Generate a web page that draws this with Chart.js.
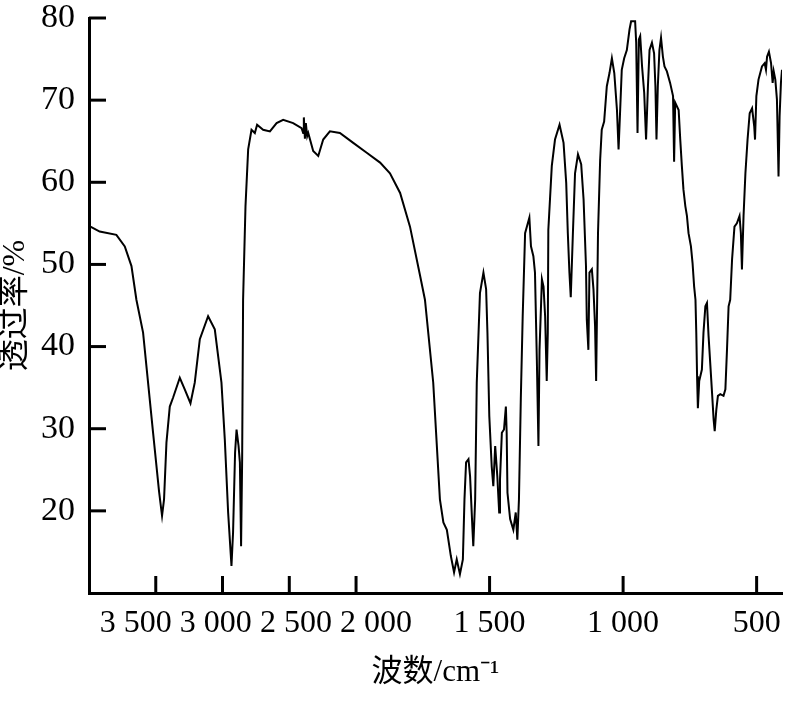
<!DOCTYPE html>
<html>
<head>
<meta charset="utf-8">
<script src="https://cdn.jsdelivr.net/npm/chart.js@4.4.0/dist/chart.umd.min.js"></script>
<style>
  html, body { margin: 0; padding: 0; background: #fff; }
  #wrap { width: 797px; height: 708px; position: relative; }
</style>
</head>
<body>
<div id="wrap"><canvas id="ir"></canvas></div>
<script>
// IR spectrum: wavenumber (cm-1) and transmittance (%)
const wavenumbers = [
  4000, 3920, 3795, 3732, 3682, 3645, 3595, 3520, 3475, 3453, 3438, 3420, 3395, 3370, 3320, 3283,
  3240, 3208, 3170, 3108, 3058, 3008, 2983, 2958, 2933, 2921, 2906, 2895, 2880, 2870, 2861, 2853,
  2846, 2828, 2808, 2783, 2758, 2741, 2696, 2645, 2595, 2546, 2471, 2408, 2396, 2391, 2383, 2376,
  2366, 2358, 2321, 2283, 2246, 2196, 2121, 2021, 1960, 1910, 1873, 1835, 1798, 1760, 1742, 1711,
  1686, 1673, 1660, 1645, 1633, 1623, 1611, 1600, 1594, 1588, 1579, 1573, 1564, 1561, 1554, 1548,
  1536, 1523, 1513, 1508, 1501, 1492, 1486, 1479, 1471, 1464, 1461, 1454, 1446, 1439, 1436, 1433,
  1423, 1411, 1402, 1396, 1390, 1383, 1376, 1367, 1351, 1345, 1336, 1330, 1323, 1317, 1313, 1304,
  1298, 1292, 1286, 1282, 1280, 1267, 1255, 1238, 1223, 1213, 1207, 1201, 1196, 1188, 1180, 1169,
  1157, 1148, 1139, 1136, 1130, 1126, 1117, 1111, 1105, 1101, 1094, 1086, 1080, 1071, 1061, 1051,
  1042, 1033, 1023, 1017, 1011, 1005, 996, 986, 976, 970, 955, 951, 946, 941, 936, 929,
  921, 914, 907, 901, 892, 884, 879, 875, 870, 864, 858, 851, 845, 836, 824, 813,
  809, 805, 792, 786, 780, 774, 767, 761, 755, 746, 740, 734, 729, 726, 723, 720,
  715, 705, 699, 692, 686, 680, 667, 661, 657, 651, 645, 636, 624, 617, 611, 605,
  599, 592, 583, 574, 564, 559, 555, 549, 542, 534, 526, 517, 509, 506, 501, 493,
  480, 470, 465, 461, 454, 446, 440, 436, 430, 424, 420, 418, 414, 409, 405
];
const transmittance = [
  54.7, 54.0, 53.6, 52.2, 49.8, 45.7, 41.7, 29.5, 22.3, 19.4, 21.4, 28.3, 32.7, 33.8, 36.2, 34.8,
  33.1, 35.6, 40.9, 43.7, 42.1, 35.6, 28.7, 19.8, 13.3, 17.4, 27.1, 29.9, 27.9, 25.9, 15.7, 26.3,
  45.7, 57.1, 64.0, 66.4, 66.0, 67.0, 66.4, 66.2, 67.2, 67.6, 67.2, 66.6, 66.0, 67.9, 65.3, 67.2,
  65.6, 66.0, 63.8, 63.2, 65.2, 66.2, 66.0, 64.8, 63.6, 62.4, 61.1, 58.7, 54.6, 48.6, 45.7, 35.6,
  21.4, 18.6, 17.7, 14.5, 12.5, 14.1, 12.3, 14.1, 21.4, 25.9, 26.3, 24.2, 17.7, 15.7, 21.4, 35.6,
  46.5, 49.0, 47.0, 41.7, 31.5, 25.4, 23.0, 27.9, 24.2, 19.8, 23.8, 29.5, 29.9, 32.7, 29.5, 22.2,
  19.0, 17.7, 19.8, 16.5, 21.4, 33.7, 43.7, 53.8, 55.7, 52.2, 51.0, 49.0, 38.4, 27.9, 39.6, 48.2,
  47.3, 43.7, 35.8, 41.7, 54.2, 62.0, 65.2, 67.0, 64.8, 59.9, 53.8, 49.0, 46.0, 53.8, 61.1, 63.4,
  62.2, 57.9, 49.8, 43.3, 39.6, 49.0, 49.4, 47.0, 42.5, 35.8, 53.8, 62.7, 66.4, 67.4, 71.7, 73.3,
  75.1, 73.3, 68.8, 64.0, 68.8, 73.7, 75.1, 76.1, 78.6, 79.6, 79.6, 77.0, 66.0, 77.4, 77.8, 74.1,
  70.9, 65.2, 71.7, 76.1, 77.0, 75.7, 71.7, 65.2, 71.7, 76.1, 77.6, 75.3, 74.1, 73.5, 72.1, 70.5,
  62.5, 69.7, 68.8, 65.2, 62.0, 59.1, 57.1, 55.9, 53.8, 52.2, 50.2, 47.3, 45.7, 41.7, 36.4, 32.5,
  35.8, 37.2, 41.7, 44.9, 45.3, 41.3, 34.4, 31.1, 29.7, 32.3, 34.0, 34.2, 34.0, 34.8, 39.6, 44.9,
  45.7, 50.6, 54.6, 55.0, 55.9, 53.8, 49.4, 55.9, 61.1, 65.2, 68.4, 69.0, 66.8, 65.2, 70.5, 72.5,
  74.1, 74.5, 73.7, 75.3, 75.9, 74.5, 72.1, 73.5, 72.5, 70.1, 64.0, 60.7, 68.0, 72.1, 73.7
];
const xTickLabels = [3500, 3000, 2500, 2000, 1500, 1000, 500];
const yTickLabels = [20, 30, 40, 50, 60, 70, 80];

// above 2000 cm-1 the axis is drawn at half scale
const BREAK = 2000;
const toAxis = (w) => (w > BREAK ? BREAK + (w - BREAK) / 2 : w);
const fromAxis = (t) => (t > BREAK ? BREAK + (t - BREAK) * 2 : t);
const xLabel = (t) => {
  const s = String(Math.round(fromAxis(t)));
  return s.length > 3 ? s.slice(0, -3) + " " + s.slice(-3) : s;
};

const serif = "'Liberation Serif', 'Times New Roman', 'Noto Sans CJK SC', serif";

// short tick marks pointing into the plot
const innerTicks = {
  id: "innerTicks",
  afterDatasetsDraw(chart) {
    const { ctx, chartArea, scales } = chart;
    ctx.save();
    ctx.strokeStyle = "#000";
    ctx.lineWidth = 3;
    scales.x.ticks.forEach((tk) => {
      const px = scales.x.getPixelForValue(tk.value);
      ctx.beginPath();
      ctx.moveTo(px, chartArea.bottom);
      ctx.lineTo(px, chartArea.bottom - 17);
      ctx.stroke();
    });
    scales.y.ticks.forEach((tk) => {
      const py = scales.y.getPixelForValue(tk.value);
      ctx.beginPath();
      ctx.moveTo(chartArea.left, py);
      ctx.lineTo(chartArea.left + 17, py);
      ctx.stroke();
    });
    ctx.restore();
  },
};

// x labels: the ones in the compressed part are spread out so they don't collide
const xLabels = {
  id: "xLabels",
  afterDraw(chart) {
    const { ctx, chartArea, scales } = chart;
    const x = scales.x;
    const px = x.ticks.map((tk) => x.getPixelForValue(tk.value));
    const wide = x.ticks.map((tk) => fromAxis(tk.value) >= BREAK);
    const grp = px.filter((p, i) => wide[i]);
    const mid = grp.reduce((a, b) => a + b, 0) / grp.length;
    ctx.save();
    ctx.fillStyle = "#000";
    ctx.font = "32px " + serif;
    ctx.textAlign = "center";
    ctx.textBaseline = "alphabetic";
    x.ticks.forEach((tk, i) => {
      const cx = wide[i] ? mid + (px[i] - mid) * 1.2 : px[i];
      ctx.fillText(xLabel(tk.value), cx, chartArea.bottom + 39);
    });
    ctx.restore();
  },
};

new Chart(document.getElementById("ir"), {
  type: "line",
  data: {
    datasets: [
      {
        data: wavenumbers.map((w, i) => ({ x: toAxis(w), y: transmittance[i] })),
        borderColor: "#000",
        borderWidth: 2,
        pointRadius: 0,
        tension: 0,
        fill: false,
      },
    ],
  },
  options: {
    responsive: true,
    maintainAspectRatio: false,
    animation: false,
    layout: { autoPadding: false, padding: { top: 18, right: 15, bottom: 0, left: 0 } },
    plugins: { legend: { display: false }, tooltip: { enabled: false } },
    scales: {
      x: {
        type: "linear",
        reverse: true,
        min: toAxis(405),
        max: toAxis(4000),
        afterBuildTicks: (scale) => {
          scale.ticks = xTickLabels.map((w) => ({ value: toAxis(w) }));
        },
        afterFit: (scale) => {
          scale.height = 115;
          scale.paddingLeft = 0;
          scale.paddingRight = 0;
        },
        grid: { display: false, drawTicks: false },
        border: { display: true, color: "#000", width: 3 },
        ticks: { display: false, callback: xLabel },
        title: {
          display: true,
          text: "波数/cm⁻¹",
          color: "#000",
          font: { family: serif, size: 31 },
          padding: { top: 0, bottom: 17 },
        },
      },
      y: {
        min: 10,
        max: 80,
        afterBuildTicks: (scale) => {
          scale.ticks = yTickLabels.map((v) => ({ value: v }));
        },
        afterFit: (scale) => {
          scale.width = 89;
          scale.paddingTop = 0;
          scale.paddingBottom = 0;
        },
        grid: { display: false, drawTicks: false },
        border: { display: true, color: "#000", width: 3 },
        ticks: {
          color: "#000",
          padding: 14,
          font: { family: serif, size: 34 },
        },
        title: {
          display: true,
          text: "透过率/%",
          color: "#000",
          font: { family: serif, size: 32, lineHeight: 1 },
          padding: { top: 0, bottom: 0 },
        },
      },
    },
  },
  plugins: [innerTicks, xLabels],
});
</script>
</body>
</html>
